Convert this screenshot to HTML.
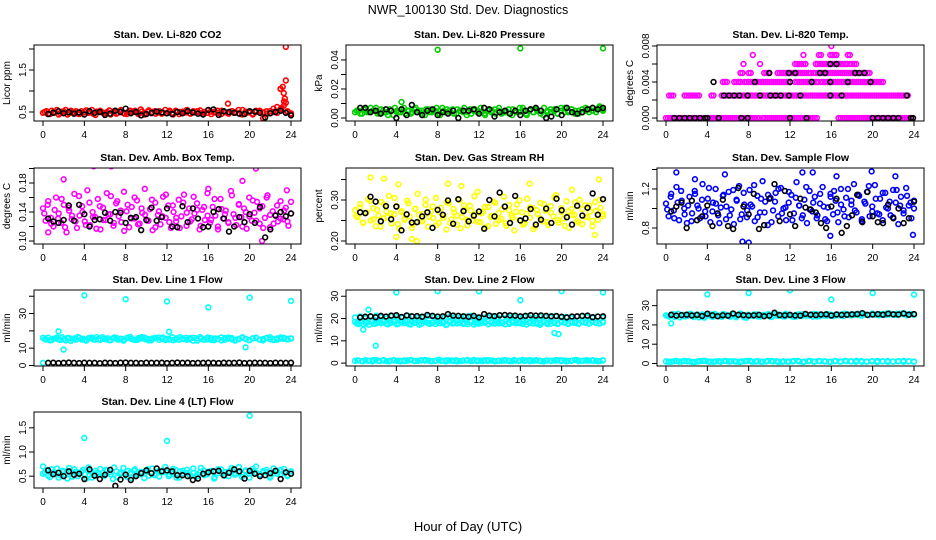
<!DOCTYPE html>
<html><head><meta charset="utf-8">
<style>
html,body{margin:0;padding:0;background:#fff;}
svg{display:block;font-family:"Liberation Sans",Arial,sans-serif;}
</style></head>
<body>
<svg id="chart" width="936" height="540" viewBox="0 0 936 540">
<rect width="936" height="540" fill="#fff"/>
<text x="468" y="14" text-anchor="middle" font-size="12.5">NWR_100130  Std. Dev. Diagnostics</text>
<text x="468" y="531" text-anchor="middle" font-size="13">Hour of Day (UTC)</text>
</svg>
<script>
const hourTicks=[0,4,8,12,16,20,24];
const co2Red=[0.48,0.52,0.45,0.50,0.55,0.47,0.51,0.44,0.53,0.49,0.46,0.52,0.50,0.48,0.55,0.43,0.51,0.49,0.47,0.54,0.50,0.46,0.52,0.48,0.45,0.53,0.50,0.49,0.56,0.44,0.51,0.47,0.52,0.49,0.46,0.55,0.50,0.48,0.53,0.45,0.51,0.49,0.47,0.52,0.50,0.54,0.46,0.48,0.51,0.49,0.53,0.45,0.50,0.47,0.52,0.48,0.55,0.44,0.51,0.49,0.46,0.53,0.50,0.48,0.52,0.47,0.58,0.62,1.05,0.75,0.50,0.45];
const co2Red2=[0.50,0.46,0.53,0.49,0.44,0.51,0.55,0.47,0.50,0.52,0.45,0.48,0.54,0.49,0.46,0.51,0.53,0.47,0.50,0.44,0.52,0.48,0.55,0.46,0.50,0.49,0.53,0.45,0.51,0.48,0.54,0.50,0.46,0.52,0.49,0.47,0.53,0.44,0.51,0.50,0.48,0.55,0.46,0.49,0.52,0.47,0.50,0.54,0.45,0.51,0.48,0.53,0.49,0.46,0.52,0.50,0.47,0.55,0.48,0.51,0.44,0.50,0.53,0.49,0.46,0.52,0.50,0.48,0.57,0.66,0.52,0.47];
const co2OutH=[17.9,23.5,23.5,23.2,23.0,23.3,23.4,23.5,23.1,21.3];
const co2OutV=[0.70,2.05,1.25,1.10,1.05,0.95,0.82,0.72,0.60,0.35];
const co2Blk=[0.45,0.48,0.52,0.47,0.50,0.46,0.49,0.44,0.52,0.48,0.50,0.43,0.46,0.53,0.50,0.58,0.47,0.50,0.42,0.45,0.48,0.51,0.49,0.47,0.45,0.50,0.47,0.52,0.49,0.46,0.44,0.55,0.56,0.43,0.52,0.50,0.48,0.46,0.45,0.52,0.51,0.48,0.37,0.47,0.50,0.53,0.48,0.42];
const presGreen=[0.004,0.005,0.003,0.006,0.004,0.005,0.007,0.003,0.005,0.004,0.006,0.002,0.005,0.004,0.007,0.005,0.003,0.006,0.004,0.005,0.002,0.006,0.004,0.005,0.003,0.007,0.004,0.005,0.006,0.003,0.005,0.004,0.002,0.006,0.005,0.004,0.007,0.003,0.005,0.004,0.006,0.005,0.003,0.004,0.006,0.002,0.005,0.004,0.007,0.003,0.005,0.004,0.006,0.005,0.002,0.004,0.006,0.005,0.003,0.007,0.004,0.005,0.006,0.003,0.005,0.004,0.007,0.006,0.005,0.004,0.007,0.006];
const presGreen2=[0.005,0.003,0.006,0.004,0.007,0.005,0.003,0.006,0.004,0.002,0.005,0.007,0.004,0.006,0.003,0.005,0.004,0.007,0.005,0.003,0.006,0.004,0.005,0.007,0.002,0.005,0.006,0.004,0.003,0.006,0.005,0.007,0.004,0.003,0.006,0.005,0.004,0.002,0.006,0.005,0.003,0.007,0.004,0.005,0.003,0.006,0.004,0.007,0.005,0.002,0.006,0.004,0.005,0.003,0.007,0.005,0.004,0.006,0.003,0.005,0.007,0.004,0.006,0.005,0.003,0.006,0.005,0.004,0.007,0.006,0.008,0.005];
const presOutH=[4.5,8,16,24];
const presOutV=[0.011,0.047,0.048,0.048];
const presBlk=[0.007,0.007,0.004,0.005,0.003,0.006,0.005,0.000,0.006,0.002,0.009,0.004,0.002,0.005,0.006,0.002,0.004,0.003,0.005,0.000,0.005,0.005,0.006,0.003,0.007,0.006,0.001,0.004,0.005,0.003,0.005,0.002,0.005,0.006,0.007,0.005,0.000,0.001,0.006,0.002,0.007,0.004,0.003,0.004,0.006,0.007,0.006,0.007];
const tempLevels=[0,0.0025,0.004,0.005,0.006,0.007,0.008];
const tempRanges=[[[0,9],[9.4,14.6],[16.7,24]],[[0.3,0.7],[1.8,3.2],[4.4,4.6],[5.4,16],[16.2,23.5]],[[5.5,6],[6.6,7.2],[7.6,12],[12.5,14.7],[15,21]],[[7.2,7.4],[8,8.3],[9.5,10],[10.8,14],[14.3,19.8]],[[7.5,7.6],[9.1,9.2],[12.5,13.5],[14.5,17.5],[17.8,18.5]],[[8.4,8.5],[13.3,13.4],[14.8,15],[15.9,16.5],[17.6,17.8]],[[16,16.1]]];
const tempBlkH=[0.8,1.3,1.8,2.3,2.8,3.3,3.8,4,5.1,7.3,7.9,12,13.6,20,20.5,21,21.5,22,22.5,23.7,23.9,5.6,6.1,6.6,7.1,7.9,9.1,10.1,10.6,11.1,11.9,13,15.9,17,23.3,4.6,8.6,12,14.1,15.9,17.6,19.8,10,11.9,12.5,14.9,15.4,18.3,18.7,19.2,15.9,16.5];
const tempBlkV=[0,0,0,0,0,0,0,0,0,0,0,0,0,0,0,0,0,0,0,0,0,0.0025,0.0025,0.0025,0.0025,0.0025,0.0025,0.0025,0.0025,0.0025,0.0025,0.0025,0.0025,0.0025,0.0025,0.004,0.004,0.004,0.004,0.004,0.004,0.004,0.005,0.005,0.005,0.005,0.005,0.005,0.005,0.005,0.006,0.006];
const ambMag=[0.145,0.128,0.155,0.132,0.120,0.160,0.138,0.125,0.150,0.112,0.142,0.130,0.165,0.118,0.135,0.148,0.127,0.170,0.122,0.140,0.133,0.158,0.116,0.146,0.129,0.137,0.162,0.121,0.152,0.134,0.126,0.168,0.141,0.119,0.147,0.131,0.156,0.124,0.139,0.172,0.128,0.144,0.115,0.153,0.136,0.123,0.161,0.132,0.149,0.118,0.140,0.127,0.157,0.134,0.164,0.121,0.145,0.130,0.138,0.152,0.116,0.143,0.129,0.166,0.125,0.147,0.135,0.120,0.158,0.131,0.142,0.126,0.169,0.137,0.122,0.150,0.133,0.145,0.117,0.160,0.128,0.139,0.154,0.124,0.148,0.132,0.163,0.119,0.141,0.136,0.127,0.155,0.130,0.146,0.121,0.138];
const ambMag2=[0.138,0.150,0.124,0.143,0.131,0.158,0.119,0.146,0.135,0.127,0.162,0.140,0.122,0.153,0.133,0.117,0.148,0.129,0.166,0.137,0.125,0.155,0.142,0.114,0.150,0.131,0.160,0.123,0.145,0.136,0.128,0.157,0.119,0.141,0.134,0.164,0.126,0.149,0.132,0.118,0.153,0.139,0.127,0.161,0.143,0.121,0.147,0.135,0.129,0.158,0.116,0.144,0.137,0.125,0.163,0.132,0.151,0.120,0.140,0.134,0.156,0.128,0.145,0.118,0.160,0.136,0.124,0.149,0.131,0.142,0.127,0.154];
const ambOutH=[2,4.9,6.6,16,19.3,20.6,21.2,23.6,0.5];
const ambOutV=[0.185,0.203,0.203,0.172,0.183,0.200,0.100,0.170,0.112];
const ambBlk=[0.131,0.127,0.125,0.129,0.149,0.128,0.150,0.137,0.120,0.129,0.130,0.139,0.128,0.140,0.139,0.125,0.132,0.133,0.115,0.129,0.146,0.128,0.133,0.145,0.120,0.119,0.148,0.126,0.145,0.131,0.119,0.120,0.140,0.144,0.131,0.113,0.120,0.133,0.126,0.137,0.125,0.147,0.105,0.116,0.135,0.140,0.134,0.138];
const rhYel=[0.275,0.258,0.290,0.245,0.268,0.302,0.250,0.280,0.236,0.262,0.295,0.255,0.272,0.310,0.243,0.265,0.285,0.230,0.270,0.252,0.298,0.260,0.240,0.278,0.315,0.248,0.266,0.288,0.235,0.272,0.256,0.305,0.244,0.281,0.262,0.228,0.292,0.253,0.269,0.240,0.300,0.258,0.276,0.238,0.286,0.250,0.265,0.320,0.246,0.271,0.233,0.283,0.259,0.296,0.242,0.268,0.254,0.308,0.237,0.275,0.262,0.226,0.289,0.251,0.270,0.243,0.303,0.257,0.280,0.235,0.266,0.293,0.248,0.274,0.239,0.285,0.260,0.312,0.245,0.270,0.255,0.297,0.232,0.278,0.264,0.249,0.300,0.241,0.287,0.258,0.272,0.236,0.295,0.252,0.281,0.266];
const rhYel2=[0.262,0.281,0.244,0.270,0.298,0.253,0.276,0.235,0.289,0.258,0.267,0.305,0.241,0.273,0.255,0.292,0.232,0.279,0.264,0.248,0.301,0.259,0.284,0.238,0.270,0.256,0.295,0.244,0.278,0.262,0.231,0.287,0.252,0.274,0.309,0.247,0.268,0.283,0.236,0.261,0.293,0.250,0.277,0.243,0.288,0.257,0.271,0.299,0.240,0.266,0.282,0.229,0.275,0.254,0.290,0.246,0.269,0.306,0.251,0.280,0.237,0.272,0.263,0.294,0.245,0.278,0.259,0.286,0.249,0.273,0.300,0.261];
const rhOutH=[1.5,2.8,4.2,5.5,6,9,10.3,16.9,21,23.6,23.2,4];
const rhOutV=[0.355,0.352,0.338,0.205,0.200,0.340,0.334,0.340,0.325,0.350,0.215,0.210];
const rhBlk=[0.270,0.268,0.308,0.296,0.248,0.285,0.253,0.284,0.226,0.265,0.245,0.246,0.260,0.270,0.232,0.276,0.264,0.299,0.242,0.302,0.273,0.248,0.262,0.272,0.230,0.300,0.260,0.318,0.284,0.244,0.310,0.250,0.255,0.278,0.240,0.252,0.279,0.244,0.303,0.275,0.258,0.240,0.286,0.262,0.281,0.316,0.264,0.302];
const flowBlue=[1.05,0.92,1.15,0.98,1.22,0.88,1.08,1.00,0.85,1.12,0.95,1.18,1.03,0.90,1.25,0.97,1.10,0.86,1.06,1.20,0.93,1.01,1.14,0.89,1.17,0.99,0.84,1.09,1.23,0.94,1.04,0.91,1.19,1.02,0.87,1.13,0.96,1.28,1.07,0.83,1.11,0.98,1.16,0.92,1.21,1.00,0.88,1.06,1.14,0.95,1.27,1.03,0.90,1.09,0.85,1.18,0.97,1.12,0.93,1.05,1.22,0.89,1.01,1.15,0.94,1.08,0.86,1.20,0.99,1.11,0.91,1.04,1.25,0.96,1.13,0.87,1.07,1.17,0.92,1.02,1.24,0.95,1.10,0.88,1.16,1.00,0.93,1.19,1.06,0.84,1.12,0.98,1.21,1.03,0.90,1.08];
const flowBlue2=[0.99,1.12,0.90,1.06,1.18,0.94,1.03,0.87,1.15,1.00,1.09,0.92,1.21,0.97,1.05,0.85,1.13,1.02,0.93,1.19,1.08,0.89,1.16,0.98,1.04,1.24,0.91,1.10,0.96,1.14,0.86,1.07,1.20,0.95,1.01,1.17,0.88,1.11,1.03,0.93,1.22,0.99,1.06,0.90,1.15,1.02,0.87,1.12,1.18,0.96,1.04,0.92,1.20,1.08,0.98,1.14,0.89,1.05,1.23,0.97,1.10,0.94,1.16,1.01,1.07,0.91,1.19,1.03,0.95,1.13,1.06,1.00];
const flowOutH=[1,2.8,5.7,7.4,8,13.2,14.2,15.9,16.5,19.9,22.2,23.9];
const flowOutV=[1.37,1.30,1.35,0.66,0.65,1.37,1.37,0.72,1.33,1.38,1.33,0.73];
const flowBlk=[0.97,1.02,1.06,0.80,1.08,0.88,0.92,1.03,0.82,0.95,1.09,0.82,0.79,1.21,1.02,0.94,1.15,0.79,0.83,1.10,1.25,0.87,1.18,0.94,0.82,1.10,1.01,0.99,0.96,0.85,0.80,1.02,1.10,0.75,0.82,0.93,1.14,0.86,1.17,0.92,0.86,0.85,1.04,0.90,1.00,0.85,0.90,1.07];
const l1Cyan=[16,15,14.5,15.5,16.2,14.8,15.3,15.9,14.2,15.6,16.4,15,14.7,15.8,16.1,14.9,15.4,16.3,15.1,14.6,15.7,16,15.2,14.4,15.9,16.5,15,14.8,15.6,16.2,15.3,14.5,15.8,16.1,15.4,14.7,15.5,16.3,15,14.9,15.7,16,15.2,14.3,15.6,16.4,14.9,15.1,15.8,14.6,15.3,16.2,14.8,15.5,15.9,14.4,15.2,16,15.4,14.7,15.6,16.1,15,14.5,15.8,16.3,15.1,14.9,15.5,16,15.3,15.7];
const l1Cyan2=[15.2,16.1,14.7,15.6,15.0,16.3,14.5,15.8,15.3,14.9,16.0,15.5,14.4,15.9,15.1,16.4,14.8,15.4,15.7,14.6,16.2,15.0,15.5,14.9,16.1,15.3,14.7,15.8,16.4,15.1,14.5,15.6,15.9,14.8,16.2,15.4,15.0,14.6,15.7,16.3,15.2,14.9,15.8,16.0,14.4,15.5,15.1,16.2,14.7,15.6,15.3,14.5,15.9,16.1,15.0,14.8,15.4,16.3,15.2,14.6,15.7,15.9,14.9,15.3,16.0,15.1,14.7,15.6,16.2,15.4,15.0,15.5];
const l1OutH=[4,8,12,16,20,24,1.5,2,19.6,12.2,0];
const l1OutV=[40.5,38.3,37,33.6,39.2,37.3,19.7,9.2,10.5,19.5,1.5];
const l1Blk=[1.5,1.6,1.4,1.5,1.7,1.5,1.4,1.6,1.5,1.5,1.3,1.6,1.5,1.4,1.6,1.7,1.5,1.5,1.4,1.6,1.5,1.5,1.6,1.4,1.5,1.7,1.5,1.6,1.4,1.5,1.5,1.6,1.5,1.4,1.6,1.5,1.5,1.7,1.4,1.5,1.6,1.5,1.5,1.4,1.6,1.5,1.5,1.6];
const l2Cyan=[18.5,17.5,19,18,17.2,18.8,17.8,18.3,19.2,17.6,18.1,18.9,17.4,18.4,17.9,18.7,17.3,18.2,19,17.7,18.6,17.9,18.1,17.5,18.8,18.3,17.1,18.5,17.8,19.1,18,17.6,18.4,18.9,17.3,18.2,17.9,18.7,19.3,18.1,17.7,18.6,18,17.4,18.3,18.8,17.9,18.2,17.6,18.5,18.1,17.8,18.4,17.2,18.7,18,17.7,18.3,17.5,18.9,18.1,17.8,18.4,18,17.6,18.6,18.2,17.9,18.5,18,17.7,18.3];
const l2Cyan2=[17.8,18.6,17.3,18.2,19.1,17.6,18.4,17.9,18.8,17.4,18.1,18.7,17.7,18.3,19.0,17.5,18.5,18.0,17.2,18.9,18.2,17.6,18.4,18.7,17.9,18.1,17.3,18.6,18.3,17.8,19.2,18.0,17.5,18.5,18.2,17.7,18.9,18.1,17.4,18.4,18.6,17.8,18.0,19.0,17.6,18.3,18.5,17.9,18.7,17.3,18.2,18.8,17.7,18.1,18.4,17.5,18.9,18.0,17.8,18.5,18.3,17.6,18.2,18.6,17.9,18.4,18.1,17.7,18.8,18.2,17.9,18.5];
const l2CyanMid=[20.5,21,20.2,20.8,21.3,20.6,20.1,21,20.7,20.4,21.2,20.9,20.3,20.6,21.1,20.8,20.2,20.5,21,20.7,20.4,20.9,21.2,20.6,20.3,20.8,21,20.5,20.2,20.7,21.1,20.4,20.9,20.6,20.3,21,20.8,20.5,21.2,20.4,20.7,20.2,20.9,21,20.6,20.3,20.8,20.5];
const l2Low=[1,1.2,0.9,1.3,1.1,0.8,1.4,1,1.2,0.9,1.1,1.3,1,0.8,1.2,1.1,1.4,0.9,1,1.3,1.1,1.2,0.9,1,1.5,1.1,0.8,1.2,1,1.3,0.9,1.1,1.2,1,1.4,0.9,1.1,1.3,1,1.2,0.8,1.1,1,1.3,1.2,0.9,1.1,1,1.4,1.2,0.9,1,1.3,1.1,0.8,1.2,1,1.1,1.3,0.9,1.2,1,1.1,1.4,0.9,1,1.2,1.1,1.3,1,0.9,1.2];
const l2Low2=[1.2,0.9,1.1,1.4,1.0,1.3,0.8,1.2,1.1,0.9,1.3,1.0,1.2,1.4,0.9,1.1,1.0,1.3,1.2,0.8,1.1,1.4,1.0,1.2,0.9,1.3,1.1,1.0,1.2,0.9,1.4,1.1,1.0,1.3,1.2,0.9,1.1,1.0,1.3,1.2,0.8,1.1,1.4,1.0,1.2,1.1,0.9,1.3];
const l2OutH=[4,8,12,16,20,24,1.3,0.8,2,19.3,19.7,0.3];
const l2OutV=[31.7,32.3,32.2,28.2,32.3,31.7,24,15,7.8,13.5,13,18];
const l2Blk=[20.5,20.8,21,20.6,21.2,20.9,21.3,21.5,20.7,21.4,21,21.1,20.8,21.6,21.2,20.9,21,22,21.3,21.2,21,20.8,21.2,20.5,22,21.3,21.1,21.5,21.6,21.4,21.3,21,21.2,21.5,21.3,21.4,21.2,21,21.1,20.8,20.5,20.9,21,21.2,21.3,20.6,20.9,21];
const l3Cyan=[25,24.3,25.6,24.8,23.9,25.2,24.6,25.8,24.1,25.4,24.7,23.8,25.1,24.4,25.7,24.9,24.2,25.3,24.5,25.9,24,25.5,24.8,23.7,25,24.6,25.4,24.3,25.2,24.9,24.1,25.6,24.7,25,24.4,25.3,24.8,24.2,25.5,24.6,25.1,24.9,24.3,25.7,24.5,25.2,24.8,25.4,24.6,25,25.3,24.7,25.6,24.9,25.2,25.8,24.8,25.4,25.1,25.9,25.3,25,25.7,25.2,26,25.4,25.1,25.8,25.5,25,25.6,25.3];
const l3Cyan2=[24.6,25.3,24.1,25.8,24.9,24.4,25.5,24.7,25.1,23.9,25.4,24.8,25.6,24.2,25.0,24.5,25.7,24.9,24.3,25.2,24.6,25.9,24.0,25.3,24.8,25.5,24.4,25.1,24.7,25.6,24.2,25.0,25.4,24.5,25.8,24.9,24.3,25.2,24.6,25.5,24.8,25.0,25.7,24.4,25.3,24.9,25.6,24.7,25.1,25.4,24.8,25.9,25.2,24.9,25.5,25.1,25.7,25.3,25.0,25.8,25.4,25.6,25.2,25.9,25.5,25.3,25.8,25.6,26.1,25.4,25.7,25.5];
const l3Low=[1.1,0.9,1.3,1,1.2,0.8,1.1,1.4,1,0.9,1.2,1.3,1,1.1,0.8,1.2,1.4,1,0.9,1.1,1.3,1.2,0.9,1,1.1,1.4,0.8,1.2,1,1.3,1.1,0.9,1.2,1,1.4,1.1,0.9,1.3,1,1.2,0.8,1.1,1.3,1,1.2,0.9,1.1,1];
const l3Low2=[0.9,1.2,1.0,1.3,1.1,0.8,1.2,1.4,1.0,1.1,0.9,1.3,1.2,1.0,1.1,1.4,0.9,1.2,1.0,1.3,1.1,0.8,1.2,1.0,1.3,1.1,0.9,1.4,1.0,1.2,1.1,0.9,1.3,1.0,1.2,1.1,1.4,0.9,1.0,1.2,1.3,1.1,0.9,1.0,1.2,1.4,1.1,1.0];
const l3OutH=[4,8,12,16,20,24,0.5];
const l3OutV=[35.8,36.5,38,33.2,36.5,35.7,20.8];
const l3Blk=[25.2,24.8,25.1,25.3,24.9,25.2,24.6,25.8,25,24.5,25,24.8,25.9,25.2,25.1,24.9,25,25.2,24.5,24.8,26.3,25.1,25,25.2,24.9,24.8,25.7,25.3,25.1,25.4,25.5,24.9,25.4,25.2,25.3,25.5,25.6,26.1,25.2,25.4,25.6,25.3,25.8,25.5,25.4,25.9,25.3,25.6];
const l4Cyan=[0.55,0.62,0.48,0.58,0.66,0.52,0.6,0.45,0.57,0.64,0.5,0.59,0.54,0.68,0.47,0.61,0.56,0.51,0.63,0.58,0.44,0.6,0.55,0.67,0.49,0.57,0.62,0.53,0.59,0.46,0.64,0.56,0.52,0.6,0.58,0.69,0.5,0.55,0.63,0.47,0.61,0.57,0.53,0.66,0.49,0.58,0.62,0.54,0.6,0.45,0.56,0.64,0.51,0.59,0.67,0.53,0.57,0.48,0.62,0.55,0.6,0.7,0.52,0.58,0.63,0.47,0.56,0.61,0.54,0.65,0.5,0.6];
const l4Cyan2=[0.58,0.51,0.64,0.55,0.47,0.61,0.53,0.67,0.49,0.59,0.56,0.63,0.45,0.6,0.52,0.57,0.65,0.5,0.62,0.54,0.68,0.48,0.58,0.55,0.61,0.46,0.64,0.53,0.57,0.6,0.51,0.66,0.55,0.49,0.62,0.58,0.53,0.65,0.47,0.6,0.56,0.63,0.5,0.57,0.54,0.67,0.52,0.59,0.61,0.48,0.64,0.55,0.58,0.5,0.62,0.56,0.69,0.53,0.6,0.47,0.65,0.57,0.54,0.61,0.58,0.5,0.66,0.55,0.63,0.57,0.52,0.6];
const l4OutH=[4,12,20,0];
const l4OutV=[1.29,1.23,1.75,0.7];
const l4Blk=[0.62,0.54,0.57,0.5,0.6,0.53,0.55,0.44,0.64,0.51,0.44,0.53,0.63,0.3,0.43,0.53,0.42,0.5,0.56,0.62,0.56,0.66,0.6,0.62,0.6,0.52,0.52,0.5,0.42,0.45,0.55,0.58,0.6,0.61,0.52,0.57,0.64,0.6,0.45,0.61,0.55,0.5,0.52,0.56,0.61,0.44,0.58,0.55];

const NS="http://www.w3.org/2000/svg";
const svg=document.getElementById('chart');
const colLeft=[34,346,657], rowTop=[45,168,290,412], PW=267, PH=76;
function el(tag,attrs,parent){const e=document.createElementNS(NS,tag);for(const k in attrs)e.setAttribute(k,attrs[k]);(parent||svg).appendChild(e);return e;}
function evenHours(n,start){const out=[];for(let i=0;i<n;i++)out.push(start+(24-start)*i/(n-1));return out;}

function panel(p){
  const L=colLeft[p.col], T=rowTop[p.row];
  const g=el('g',{});
  
  
  const xs=h=>L+9+h*(248/24);
  const ys=v=>T+PH-(v-p.ymin)/(p.ymax-p.ymin)*PH;
  const t=el('text',{x:L+PW/2,y:T-7,'text-anchor':'middle','font-size':10.5,'font-weight':'bold'},g);
  t.textContent=p.title;
  
  
  const yl=el('text',{x:0,y:0,'text-anchor':'middle','font-size':10,transform:`translate(${L-24},${T+PH/2}) rotate(-90)`},g);
  yl.textContent=p.ylab;
  
  
  el('line',{x1:xs(0),x2:xs(24),y1:T+PH,y2:T+PH,stroke:'#000'},g);
  hourTicks.forEach(h=>{
    el('line',{x1:xs(h),x2:xs(h),y1:T+PH,y2:T+PH+5,stroke:'#000'},g);
    const tx=el('text',{x:xs(h),y:T+PH+17,'text-anchor':'middle','font-size':10},g);
    tx.textContent=h;
    
    
  });
  el('line',{x1:L,x2:L,y1:ys(p.ticks[0]),y2:ys(p.ticks[p.ticks.length-1]),stroke:'#000'},g);
  p.ticks.forEach((v,i)=>{
    el('line',{x1:L-5,x2:L,y1:ys(v),y2:ys(v),stroke:'#000'},g);
    if(p.tickLabels[i]){
      const ty=el('text',{x:0,y:0,'text-anchor':'middle','font-size':10,transform:`translate(${L-8},${ys(v)}) rotate(-90)`},g);
      ty.textContent=p.tickLabels[i];
      
      
    }
  });
  const cid='c'+p.name;
  const cp=el('clipPath',{id:cid},g); el('rect',{x:L,y:T,width:PW,height:PH},cp);
  const pts=el('g',{'clip-path':`url(#${cid})`,fill:'none','stroke-width':1.6},g);
  function dot(h,v,c){const d=el('circle',{cx:xs(h),cy:ys(v),r:2.4,stroke:c},pts);
    
    }
  p.series.forEach(s=>{
    const hs=s.hours||evenHours(s.vals.length,s.start||0);
    s.vals.forEach((v,i)=>dot(hs[i],v,s.color));
  });
  if(p.extra)p.extra(dot);
  el('rect',{x:L,y:T,width:PW,height:PH,fill:'none',stroke:'#000','stroke-width':1},g);
}
const R='#ff0000',G='#00cd00',M='#ff00ff',Y='#ffff00',B='#0000ff',C='#00ffff',K='#000000';
panel({name:'panel-co2',col:0,row:0,title:'Stan. Dev. Li-820 CO2',ylab:'Licor ppm',ymin:0.286,ymax:2.095,ticks:[0.5,1,1.5,2],tickLabels:['0.5','','1.5',''],
  series:[{vals:co2Red,color:R},{vals:co2Red2,color:R,start:0.17},{vals:co2OutV,hours:co2OutH,color:R},{vals:co2Blk,color:K,start:0.5}]});
panel({name:'panel-pressure',col:1,row:0,title:'Stan. Dev. Li-820 Pressure',ylab:'kPa',ymin:-0.00207,ymax:0.0503,ticks:[0,0.01,0.02,0.03,0.04],tickLabels:['0.00','','0.02','','0.04'],
  series:[{vals:presGreen,color:G},{vals:presGreen2,color:G,start:0.17},{vals:presOutV,hours:presOutH,color:G},{vals:presBlk,color:K,start:0.5}]});
panel({name:'panel-temp',col:2,row:0,title:'Stan. Dev. Li-820 Temp.',ylab:'degrees C',ymin:-0.00033,ymax:0.00811,ticks:[0,0.002,0.004,0.006,0.008],tickLabels:['0.000','','0.004','','0.008'],
  series:[],extra:dot=>{
    tempRanges.forEach((rs,li)=>rs.forEach(r=>{for(let h=r[0];h<=r[1]+1e-9;h+=0.2)dot(h,tempLevels[li],M);}));
    tempBlkH.forEach((h,i)=>dot(h,tempBlkV[i],K));
  }});
panel({name:'panel-amb-box-temp',col:0,row:1,title:'Stan. Dev. Amb. Box Temp.',ylab:'degrees C',ymin:0.0959,ymax:0.2007,ticks:[0.10,0.12,0.14,0.16,0.18,0.20],tickLabels:['0.10','','0.14','','0.18',''],
  series:[{vals:ambMag,color:M},{vals:ambMag2,color:M,start:0.12},{vals:ambOutV,hours:ambOutH,color:M},{vals:ambBlk,color:K,start:0.5}]});
panel({name:'panel-gas-rh',col:1,row:1,title:'Stan. Dev. Gas Stream RH',ylab:'percent',ymin:0.1927,ymax:0.378,ticks:[0.20,0.25,0.30,0.35],tickLabels:['0.20','','0.30',''],
  series:[{vals:rhYel,color:Y},{vals:rhYel2,color:Y,start:0.12},{vals:rhOutV,hours:rhOutH,color:Y},{vals:rhBlk,color:K,start:0.5}]});
panel({name:'panel-sample-flow',col:2,row:1,title:'Stan. Dev. Sample Flow',ylab:'ml/min',ymin:0.636,ymax:1.415,ticks:[0.8,1.0,1.2,1.4],tickLabels:['0.8','','1.2',''],
  series:[{vals:flowBlue,color:B},{vals:flowBlue2,color:B,start:0.12},{vals:flowOutV,hours:flowOutH,color:B},{vals:flowBlk,color:K,start:0.5}]});
panel({name:'panel-line1',col:0,row:2,title:'Stan. Dev. Line 1 Flow',ylab:'ml/min',ymin:-0.3,ymax:43.6,ticks:[0,10,20,30,40],tickLabels:['0','10','','30',''],
  series:[{vals:l1Cyan,color:C},{vals:l1Cyan2,color:C,start:0.17},{vals:l1OutV,hours:l1OutH,color:C},{vals:l1Blk,color:K,start:0.5}]});
panel({name:'panel-line2',col:1,row:2,title:'Stan. Dev. Line 2 Flow',ylab:'ml/min',ymin:-1.3,ymax:32.8,ticks:[0,10,20,30],tickLabels:['0','10','20','30'],
  series:[{vals:l2Low,color:C},{vals:l2Low2,color:C,start:0.25},{vals:l2Cyan,color:C},{vals:l2Cyan2,color:C,start:0.17},{vals:l2CyanMid,color:C},{vals:l2OutV,hours:l2OutH,color:C},{vals:l2Blk,color:K,start:0.5}]});
panel({name:'panel-line3',col:2,row:2,title:'Stan. Dev. Line 3 Flow',ylab:'ml/min',ymin:-1.3,ymax:38.1,ticks:[0,10,20,30],tickLabels:['0','10','20','30'],
  series:[{vals:l3Low,color:C},{vals:l3Low2,color:C,start:0.25},{vals:l3Cyan,color:C},{vals:l3Cyan2,color:C,start:0.17},{vals:l3OutV,hours:l3OutH,color:C},{vals:l3Blk,color:K,start:0.5}]});
panel({name:'panel-line4',col:0,row:3,title:'Stan. Dev. Line 4 (LT) Flow',ylab:'ml/min',ymin:0.255,ymax:1.827,ticks:[0.5,1.0,1.5],tickLabels:['0.5','1.0','1.5'],
  series:[{vals:l4Cyan,color:C},{vals:l4Cyan2,color:C,start:0.17},{vals:l4OutV,hours:l4OutH,color:C},{vals:l4Blk,color:K,start:0.5}]});
</script>
</body></html>
